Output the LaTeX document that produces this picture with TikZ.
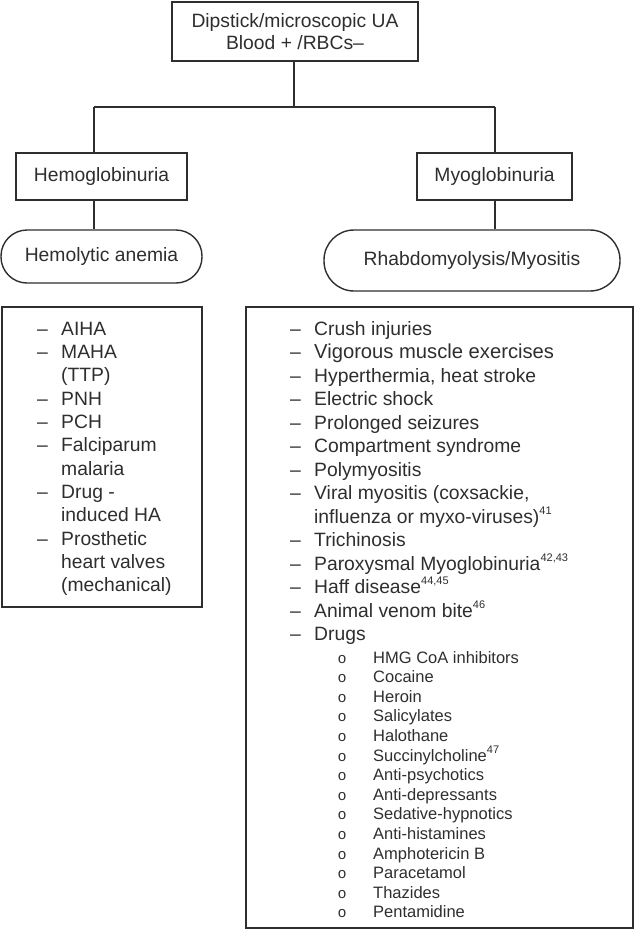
\documentclass[tikz,border=0pt]{standalone}
\usepackage{fontspec}
\setmainfont{Liberation Sans}
\newfontfamily\bulletfont{Liberation Mono}
\usepackage{tikz}
\usetikzlibrary{positioning}
\definecolor{ink}{HTML}{2E2E2E}
\newcommand\refsup[1]{\raisebox{0.45em}{\fontsize{11}{11}\selectfont #1}}

\begin{document}
\begin{tikzpicture}[x=1pt,y=-1pt,
  box/.style={draw=ink,line width=1.4pt,inner sep=0pt,align=center,text=ink,
    font=\fontsize{19.3}{22}\selectfont},
  pill/.style={box,rounded corners=#1},
  wire/.style={draw=ink,line width=1.4pt},
  item/.style={anchor=base west,inner sep=0pt,text=ink,font=\fontsize{19.3}{22}\selectfont},
  subitem/.style={item,font=\fontsize{16.5}{19}\selectfont},
  bul/.style={anchor=base,inner sep=0pt,text=ink,font=\bulletfont\fontsize{15}{15}\selectfont}]
\useasboundingbox (0,0) rectangle (635,930);
% top of the tree
\node[box,minimum width=246pt,minimum height=59pt] (ua) at (295,31.5)
  {Dipstick/microscopic UA\\Blood + /RBCs–};
\node[box,minimum width=171pt,minimum height=47pt] (hemo) at (101.5,176.5) {Hemoglobinuria};
\node[box,minimum width=155pt,minimum height=47pt] (myo) at (494.5,176.5) {Myoglobinuria};
\node[pill=26pt,minimum width=201pt,minimum height=53pt] (hemol) at (101.5,256.5) {Hemolytic anemia};
\node[pill=30pt,minimum width=296pt,minimum height=61pt] (rhabdo) at (472,260.5) {Rhabdomyolysis/Myositis};
% branching lines
\coordinate (jm) at (294,107);
\coordinate (jl) at (94,107);
\coordinate (jr) at (495,107);
\draw[wire] (jm |- ua.south) -- (jm);
\draw[wire] (jl) -- (jr);
\draw[wire] (jl) -- (jl |- hemo.north);
\draw[wire] (jl |- hemo.south) -- (jl |- hemol.north);
\draw[wire] (jr) -- (jr |- myo.north);
\draw[wire] (jr |- myo.south) -- (jr |- rhabdo.north);
% cause lists
\node[box,minimum width=200pt,minimum height=300pt] (hlist) at (102,457) {};
\node[box,minimum width=387pt,minimum height=621pt] (mlist) at (439.5,617.5) {};
\foreach \k/\d/\t in {0/1/AIHA,1/1/MAHA,2/0/(TTP),3/1/PNH,4/1/PCH,5/1/Falciparum,
    6/0/malaria,7/1/Drug -,8/0/induced HA,9/1/Prosthetic,10/0/heart valves,11/0/(mechanical)}{
  \pgfmathsetmacro\yy{335+23.35*\k}
  \ifnum\d=1 \node[item] (hd\k) at (37,\yy) {–};\fi
  \node[item] (ht\k) at (61,\yy) {\t};
}
\foreach \k/\d/\t in {0/1/Crush injuries,
    1/1/{\fontsize{20.2}{22}\selectfont Vigorous muscle exercises},
    2/1/{Hyperthermia, heat stroke},3/1/Electric shock,4/1/Prolonged seizures,
    5/1/Compartment syndrome,6/1/Polymyositis,7/1/{Viral myositis (coxsackie,},
    8/0/{influenza or myxo-viruses)\refsup{41}},9/1/Trichinosis,
    10/1/{Paroxysmal Myoglobinuria\refsup{42,43}},11/1/{Haff disease\refsup{44,45}},
    12/1/{Animal venom bite\refsup{46}},13/1/Drugs}{
  \pgfmathsetmacro\yy{335+23.5*\k}
  \ifnum\d=1 \node[item] (md\k) at (290,\yy) {–};\fi
  \node[item] (mt\k) at (314,\yy) {\t};
}
\foreach \t [count=\k] in {HMG CoA inhibitors,Cocaine,Heroin,Salicylates,Halothane,
    Succinylcholine\refsup{47},Anti-psychotics,Anti-depressants,Sedative-hypnotics,
    Anti-histamines,Amphotericin B,Paracetamol,Thazides,Pentamidine}{
  \pgfmathsetmacro\yy{663+19.6*(\k-1)}
  \node[bul] (db\k) at (342,\yy) {o};
  \node[subitem] (dt\k) at (373,\yy) {\t};
}
\end{tikzpicture}
\end{document}
